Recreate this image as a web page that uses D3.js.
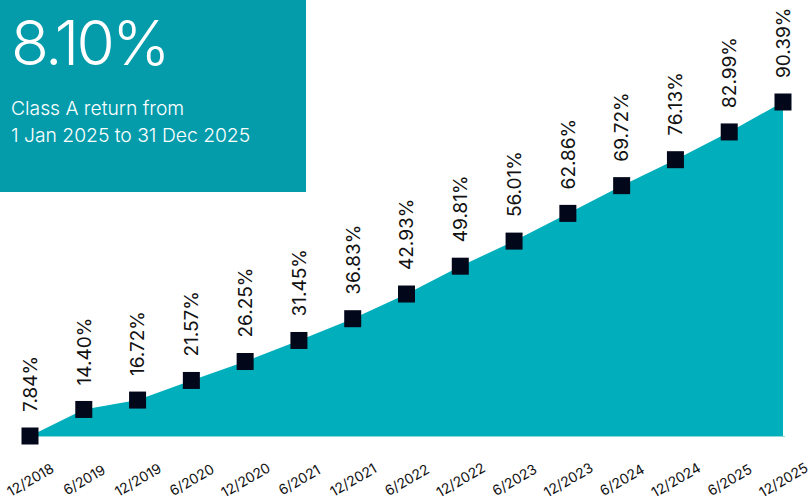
<!DOCTYPE html>
<html>
<head>
<meta charset="utf-8">
<script src="https://d3js.org/d3.v7.min.js"></script>
<style>
  body { margin: 0; background: #fff; }
  text { font-family: Inter, "Noto Sans", sans-serif; }
</style>
</head>
<body>
<svg class="target" width="808" height="501"></svg>
<script>

// data
const periods = ['12/2018', '6/2019', '12/2019', '6/2020', '12/2020', '6/2021', '12/2021',
                 '6/2022', '12/2022', '6/2023', '12/2023', '6/2024', '12/2024', '6/2025', '12/2025']
const returns = [7.84, 14.40, 16.72, 21.57, 26.25, 31.45, 36.83,
                 42.93, 49.81, 56.01, 62.86, 69.72, 76.13, 82.99, 90.39]
const headline = '8.10%'
const subtitle = ['Class A return from', '1 Jan 2025 to 31 Dec 2025']

const width = 808
const height = 501
const margin = { top: 102, right: 25, bottom: 65, left: 30 }

const data = periods.map((p, i) => ({ period: p, value: returns[i] }))

const svg = d3.select('.target')

const x = d3.scalePoint(periods, [margin.left, width - margin.right])

const y = d3.scaleLinear(
  d3.extent(returns),
  [height - margin.bottom, margin.top]
)

const area = d3.area()
  .x(d => x(d.period))
  .y0(y(d3.min(returns)))
  .y1(d => y(d.value))

svg.append('path')
  .datum(data)
  .attr('d', area)
  .attr('fill', '#00afbb')

// thin light line along the base of the area
svg.append('line')
  .attr('x1', x(periods[0])).attr('x2', x(periods[periods.length - 1]) + 2)
  .attr('y1', y(d3.min(returns)) + 0.5).attr('y2', y(d3.min(returns)) + 0.5)
  .attr('stroke', '#8fd9de')

// markers
const sq = 17
svg.append('g')
  .selectAll('rect')
  .data(data)
  .join('rect')
    .attr('x', d => x(d.period) - sq / 2)
    .attr('y', d => y(d.value) - sq / 2)
    .attr('width', sq)
    .attr('height', sq)
    .attr('fill', '#03071a')

// value labels, rotated
svg.append('g')
  .selectAll('text')
  .data(data)
  .join('text')
    .attr('transform', d => `translate(${x(d.period)},${y(d.value) - 24}) rotate(-90)`)
    .attr('dy', '0.36em')
    .attr('font-size', 19)
    .attr('fill', '#111')
    .text(d => d.value.toFixed(2) + '%')

// x axis labels
const xAxis = d3.axisBottom(x).tickSize(0).tickPadding(0)
const gx = svg.append('g')
  .attr('transform', `translate(0,${height - 21})`)
  .call(xAxis)
gx.select('.domain').remove()
gx.selectAll('text')
  .attr('font-family', 'Inter, "Noto Sans", sans-serif')
  .attr('font-size', 14)
  .attr('fill', '#111')
  .attr('text-anchor', 'middle')
  .attr('y', 0)
  .attr('dy', '0.35em')
  .attr('transform', 'rotate(-30)')

// headline box
svg.append('rect')
  .attr('x', 0).attr('y', 0)
  .attr('width', 306).attr('height', 192)
  .attr('fill', '#049cab')

svg.append('text')
  .attr('x', 11).attr('y', 65)
  .attr('font-size', 62)
  .attr('font-weight', 300)
  .attr('letter-spacing', -2.5)
  .attr('fill', '#fff')
  .text(headline)

svg.append('g')
  .selectAll('text')
  .data(subtitle)
  .join('text')
    .attr('x', 11)
    .attr('y', (d, i) => 115 + i * 27)
    .attr('font-size', 19.3)
    .attr('font-weight', 300)
    .attr('fill', '#fff')
    .text(d => d)

</script>
</body>
</html>
